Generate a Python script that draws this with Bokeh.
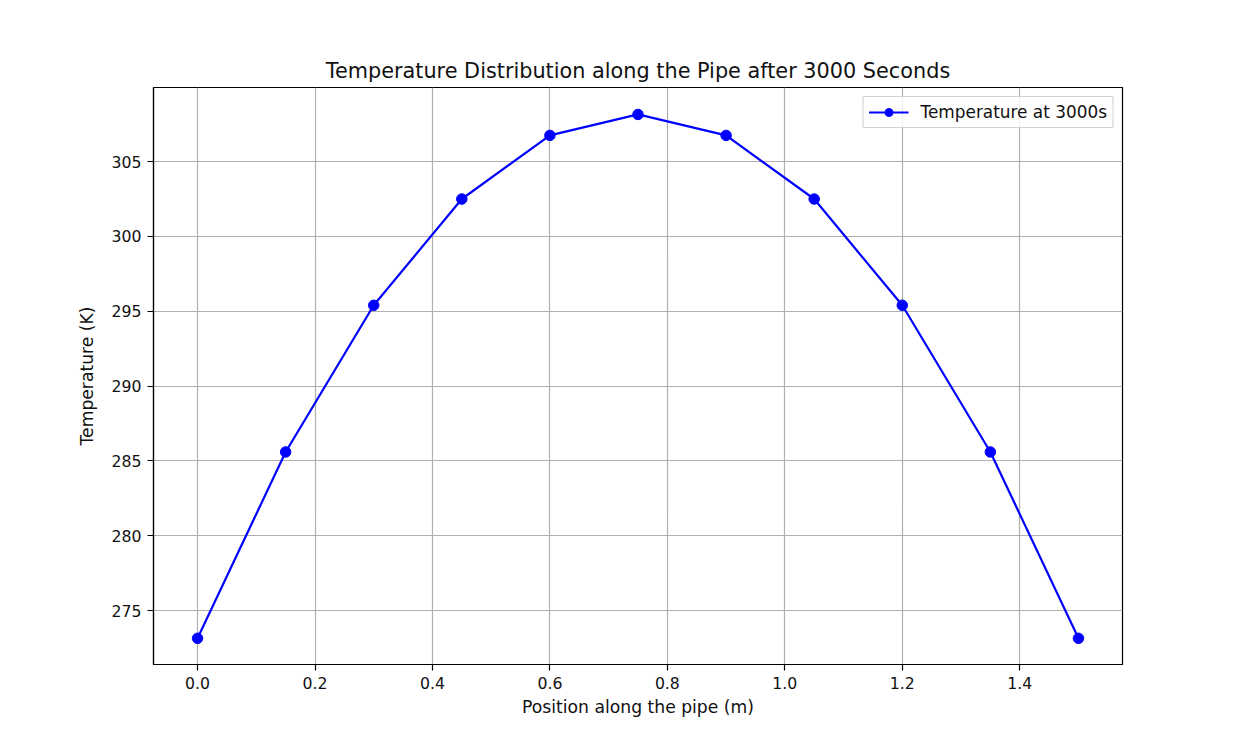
from bokeh.plotting import figure
from bokeh.models import FixedTicker, Range1d, NumeralTickFormatter
from bokeh.embed import file_html
from bokeh.resources import INLINE

positions = [0.0, 0.15, 0.30, 0.45, 0.60, 0.75, 0.90, 1.05, 1.20, 1.35, 1.50]
temperatures = [273.15, 285.6, 295.4, 302.5, 306.75, 308.15, 306.75, 302.5, 295.4, 285.6, 273.15]
x_ticks = [0.0, 0.2, 0.4, 0.6, 0.8, 1.0, 1.2, 1.4]
y_ticks = [275, 280, 285, 290, 295, 300, 305]

FONT = "DejaVu Sans"

p = figure(width=1245, height=745, output_backend="svg", toolbar_location=None,
           x_range=Range1d(-0.075, 1.575), y_range=Range1d(271.4, 309.95),
           min_border_left=153, min_border_right=123, min_border_top=87, min_border_bottom=81)

p.title.text = "Temperature Distribution along the Pipe after 3000 Seconds"
p.title.align = "center"
p.title.text_font = FONT
p.title.text_font_size = "20.8px"
p.title.text_font_style = "normal"
p.title.text_color = "#111111"
p.title.offset = 0
p.title.standoff = 9

p.line(positions, temperatures, line_color="#0000ff", line_width=2.2, legend_label="Temperature at 3000s")
p.scatter(positions, temperatures, size=10.5, fill_color="#0000ff", line_color="#0000ff", legend_label="Temperature at 3000s")

for ax in (p.xaxis[0], p.yaxis[0]):
    ax.axis_label_text_font = FONT
    ax.axis_label_text_font_size = "17.2px"
    ax.axis_label_text_font_style = "normal"
    ax.axis_label_text_color = "#111111"
    ax.major_label_text_font = FONT
    ax.major_label_text_font_size = "15.7px"
    ax.major_label_text_color = "#111111"
    ax.major_tick_in = 0
    ax.major_tick_out = 6
    ax.minor_tick_out = 0
    ax.minor_tick_in = 0
    ax.axis_line_color = "black"
    ax.axis_line_width = 1.2
    ax.major_tick_line_color = "black"
    ax.major_tick_line_width = 1.2
    ax.major_label_standoff = 6

p.xaxis.axis_label = "Position along the pipe (m)"
p.yaxis.axis_label = "Temperature (K)"
p.xaxis.ticker = FixedTicker(ticks=x_ticks)
p.yaxis.ticker = FixedTicker(ticks=y_ticks)
p.xaxis.formatter = NumeralTickFormatter(format="0.0")
p.xaxis.axis_label_standoff = 5
p.yaxis.axis_label_standoff = 12

p.xgrid.ticker = FixedTicker(ticks=x_ticks)
p.ygrid.ticker = FixedTicker(ticks=y_ticks)
p.grid.grid_line_color = "#b0b0b0"
p.grid.grid_line_width = 1.2

p.outline_line_color = "black"
p.outline_line_width = 1.2
p.background_fill_color = "white"
p.border_fill_color = "white"

p.legend.location = "top_right"
p.legend.label_text_font = FONT
p.legend.label_text_font_size = "16.9px"
p.legend.label_text_color = "#111111"
p.legend.border_line_color = "#d0d0d0"
p.legend.border_line_alpha = 1
p.legend.background_fill_alpha = 0.8
p.legend.margin = 9
p.legend.padding = 5
p.legend.spacing = 0
p.legend.glyph_width = 40
p.legend.label_standoff = 12

open("out.html", "w").write(file_html(p, INLINE))
